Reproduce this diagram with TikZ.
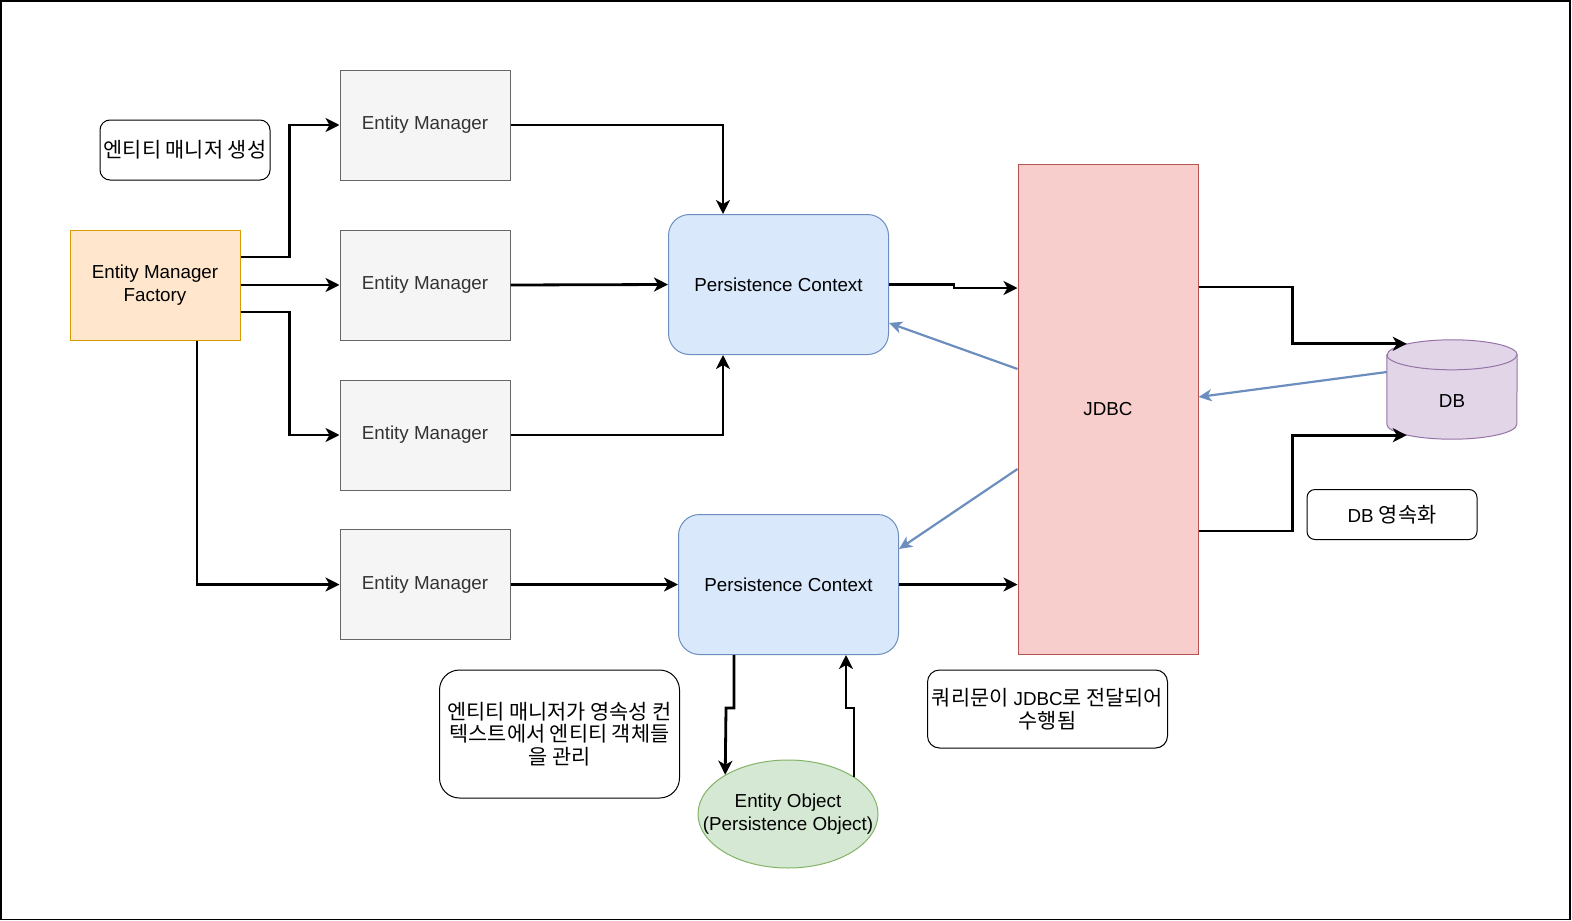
\documentclass[tikz,border=0pt]{standalone}
\usepackage{fontspec}
\setmainfont{Liberation Sans}
\newfontfamily\kr{Noto Sans CJK KR}
\newcommand\krtext{\kr\fontsize{20.8}{23.5}\selectfont}
\usetikzlibrary{arrows.meta,shapes.geometric}

\definecolor{emfFill}{HTML}{FFE6CC}
\definecolor{emfDraw}{HTML}{D79B00}
\definecolor{emFill}{HTML}{F5F5F5}
\definecolor{emDraw}{HTML}{666666}
\definecolor{emText}{HTML}{333333}
\definecolor{pcFill}{HTML}{DAE8FC}
\definecolor{pcDraw}{HTML}{6C8EBF}
\definecolor{jdbcFill}{HTML}{F8CECC}
\definecolor{jdbcDraw}{HTML}{B85450}
\definecolor{dbFill}{HTML}{E1D5E7}
\definecolor{dbDraw}{HTML}{9673A6}
\definecolor{eoFill}{HTML}{D5E8D4}
\definecolor{eoDraw}{HTML}{82B366}

\begin{document}
\begin{tikzpicture}[x=1pt,y=-1pt,
  font=\fontsize{18.8}{23.5}\selectfont,
  box/.style={rectangle, inner sep=0pt, line width=1pt, align=center},
  factorybox/.style={box, fill=emfFill, draw=emfDraw, minimum width=170pt, minimum height=110pt},
  managerbox/.style={box, fill=emFill, draw=emDraw, text=emText, minimum width=170pt, minimum height=110pt},
  ctxbox/.style={box, fill=pcFill, draw=pcDraw, rounded corners=21pt, minimum width=220pt, minimum height=140pt},
  jdbcbox/.style={box, fill=jdbcFill, draw=jdbcDraw, minimum width=180pt, minimum height=490pt},
  notebox/.style={box, draw=black, fill=white, rounded corners=#1},
  flow/.style={line width=2.8pt, -{Stealth[length=14pt,width=14pt,inset=4pt]}},
  backflow/.style={draw=pcDraw, line width=2.2pt, -{Stealth[length=13pt,width=12pt,inset=3.5pt]}}
]
\useasboundingbox (0,0) rectangle (1572,921);
\draw[line width=1.5pt] (0.75,0.75) rectangle (1570,919.25);

% notes
\node[notebox=10pt, minimum width=170pt, minimum height=60pt] (n1) at (185,150) {\krtext 엔티티 매니저 생성};
\node[notebox=8pt, minimum width=170pt, minimum height=50pt] (n2) at (1392,514.5) {DB {\krtext 영속화}};
\node[notebox=12pt, minimum width=240pt, minimum height=78pt] (n3) at (1047.5,709) {{\krtext 쿼리문이} JDBC{\krtext 로 전달되어}\\[-1pt]{\krtext 수행됨}};
\node[notebox=20pt, minimum width=240pt, minimum height=128pt] (n4) at (559.5,734) {\krtext 엔티티 매니저가 영속성 컨\\[-1pt]\krtext 텍스트에서 엔티티 객체들\\[-1pt]\krtext 을 관리};

% factory and managers
\node[factorybox] (emf) at (155,285) {Entity Manager\\Factory};
\node[managerbox] (em1) at (425,125) {Entity Manager};
\node[managerbox] (em2) at (425,285) {Entity Manager};
\node[managerbox] (em3) at (425,435) {Entity Manager};
\node[managerbox] (em4) at (425,584.5) {Entity Manager};

% persistence contexts and JDBC
\node[ctxbox] (pc1) at (778.5,284.5) {Persistence Context};
\node[ctxbox] (pc2) at (788.5,584.5) {Persistence Context};
\node[jdbcbox] (jdbc) at (1108,409.5) {JDBC};

% database cylinder
\node[minimum width=130pt, minimum height=99pt, inner sep=0pt] (db) at (1452,389.5) {};
\draw[fill=dbFill, draw=dbDraw, line width=1pt]
  ([yshift=-15pt]db.north west) -- ([yshift=15pt]db.south west)
  arc[start angle=180, end angle=0, x radius=65, y radius=15]
  -- ([yshift=-15pt]db.north east)
  arc[start angle=0, end angle=-180, x radius=65, y radius=15] -- cycle;
\draw[draw=dbDraw, line width=1pt] ([yshift=-15pt]db.north west)
  arc[start angle=180, end angle=0, x radius=65, y radius=15];
\node at ([yshift=-11.5pt]db.center) {DB};

% entity object
\node[ellipse, fill=eoFill, draw=eoDraw, line width=1pt, inner sep=0pt,
      minimum width=180pt, minimum height=108pt] (eo) at (788,814) {};
\node[align=center, inner sep=0pt] at (eo.center) {Entity Object\\(Persistence Object)};

% factory creates managers
\draw[flow] ([yshift=28pt]emf.east) -- ++(49,0) |- (em1.west);
\draw[flow] (emf.east) -- (em2.west);
\draw[flow] ([yshift=-27pt]emf.east) -- ++(49,0) |- (em3.west);
\draw[flow] (197,0 |- emf.south) |- (em4.west);

% managers to contexts
\draw[flow] (em1.east) -| (723,0 |- pc1.north);
\draw[flow] (em2.east) -- (pc1.west);
\draw[flow] (em3.east) -| (723,0 |- pc1.south);
\draw[flow] (em4.east) -- (pc2.west);

% contexts to JDBC, JDBC to DB
\draw[flow] (pc1.east) -- ++(65,0) |- (jdbc.west |- 0,288);
\draw[flow] (pc2.east) -- (jdbc.west |- pc2.east);
\draw[flow] (jdbc.east |- 0,287) -- ++(94,0) |- ([xshift=20pt,yshift=-4pt]db.north west);
\draw[flow] (jdbc.east |- 0,531) -- ++(94,0) |- ([xshift=20pt,yshift=4pt]db.south west);

% results flowing back
\draw[backflow] ([yshift=17.5pt]db.west) -- (jdbc.east |- 0,397);
\draw[backflow] (jdbc.west |- 0,369) -- (pc1.east |- 0,323);
\draw[backflow] (jdbc.west |- 0,469) -- (pc2.east |- 0,549);

% context and entity object
\draw[flow] (734,0 |- pc2.south) -- (734,708) -- (726,708) -- (eo.148);
\draw[flow] (854,0 |- eo.29) -- (854,708) -- (846,708) -- (846,0 |- pc2.south);
\end{tikzpicture}
\end{document}
